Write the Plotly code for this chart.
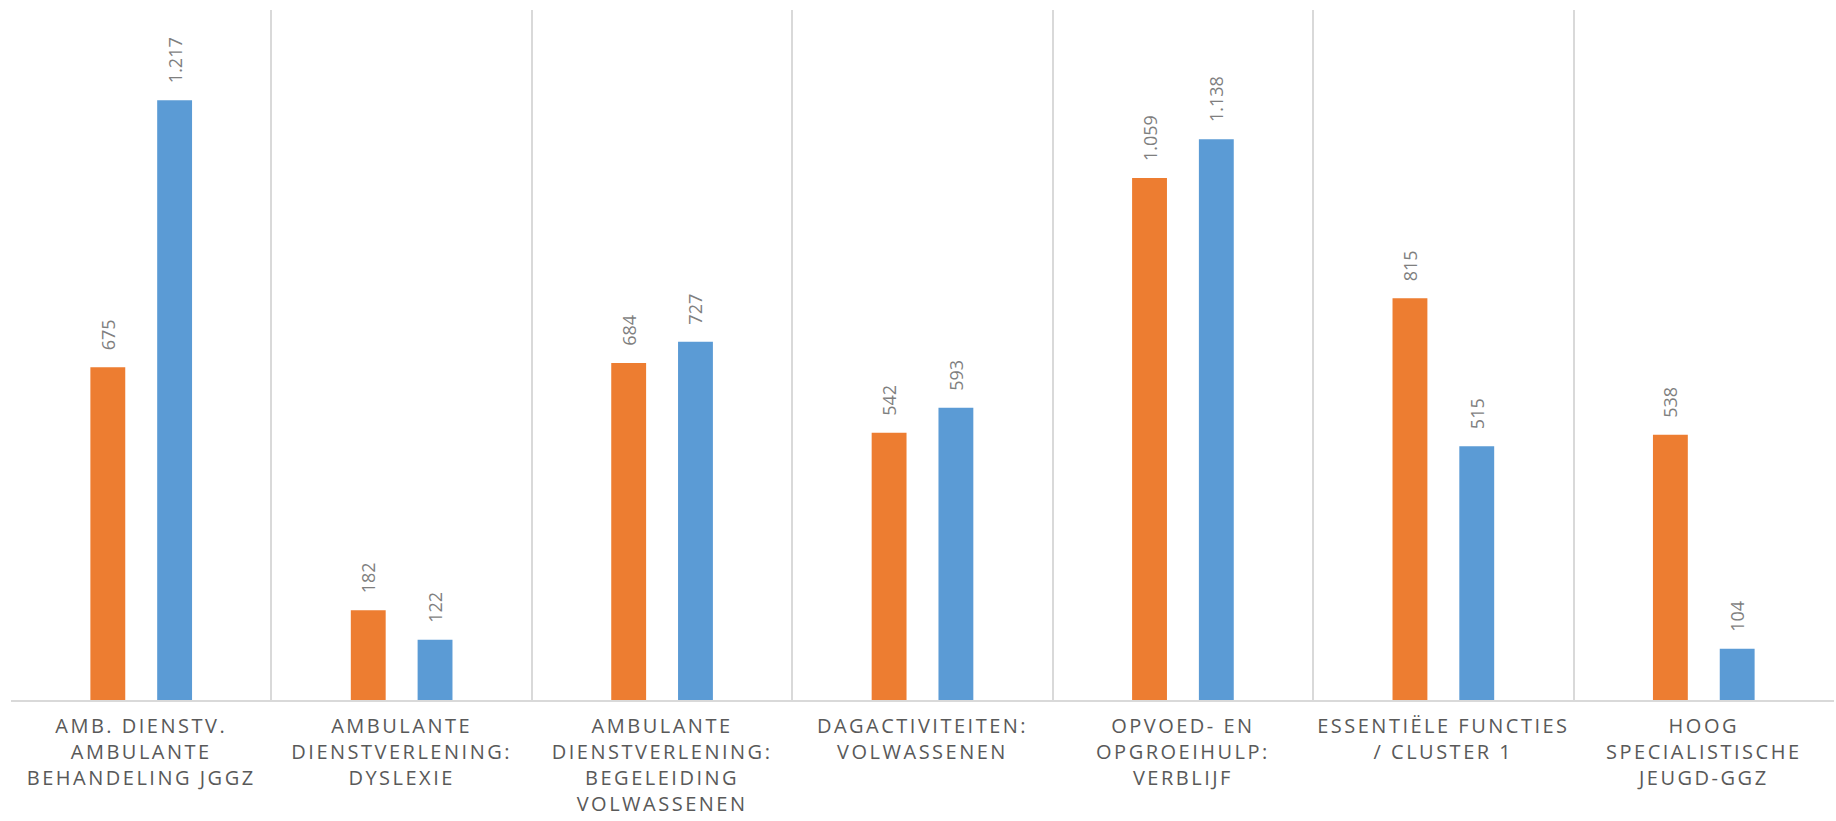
import plotly.graph_objects as go

categories = [
    "AMB. DIENSTV.<br>AMBULANTE<br>BEHANDELING JGGZ",
    "AMBULANTE<br>DIENSTVERLENING:<br>DYSLEXIE",
    "AMBULANTE<br>DIENSTVERLENING:<br>BEGELEIDING<br>VOLWASSENEN",
    "DAGACTIVITEITEN:<br>VOLWASSENEN",
    "OPVOED- EN<br>OPGROEIHULP:<br>VERBLIJF",
    "ESSENTIËLE FUNCTIES<br>/ CLUSTER 1",
    "HOOG<br>SPECIALISTISCHE<br>JEUGD-GGZ",
]
series_orange = [675, 182, 684, 542, 1059, 815, 538]
series_blue = [1217, 122, 727, 593, 1138, 515, 104]

PAD = "\u00a0\u00a0\u00a0"

fig = go.Figure()
for vals, color in [(series_orange, "#ED7D31"), (series_blue, "#5B9BD5")]:
    fig.add_trace(go.Bar(
        x=categories, y=vals, marker=dict(color=color, line=dict(width=0)),
        texttemplate=PAD + "%{y:,.0f}", textposition="outside", textangle=-90,
        textfont=dict(family="Open Sans", size=18, color="#7F7F7F"),
        constraintext="none", cliponaxis=False, showlegend=False,
    ))

fig.update_layout(
    width=1836, height=821,
    margin=dict(l=11, r=2, t=10, b=121),
    plot_bgcolor="white", paper_bgcolor="white",
    barmode="group", bargap=0.487, bargroupgap=0.478,
    separators=",.",
    showlegend=False,
    font=dict(family="Open Sans"),
)
fig.update_xaxes(
    type="category", tickson="boundaries", showgrid=True, gridcolor="#D9D9D9", gridwidth=1.5,
    showline=True, linecolor="#D9D9D9", linewidth=2, ticks="",
    tickfont=dict(family="Open Sans", size=20, color="#595959"),
    tickangle=0, ticklabelstandoff=7, automargin=False,
)
fig.update_yaxes(range=[0, 1400], showgrid=False, showticklabels=False, zeroline=False, showline=False)

post = """
var s=document.createElement('style');
s.innerHTML='body{margin:0;} .xtick text{letter-spacing:2.5px}';
document.head.appendChild(s);
"""
fig.write_html("out.html", post_script=post, config={"displayModeBar": False})
